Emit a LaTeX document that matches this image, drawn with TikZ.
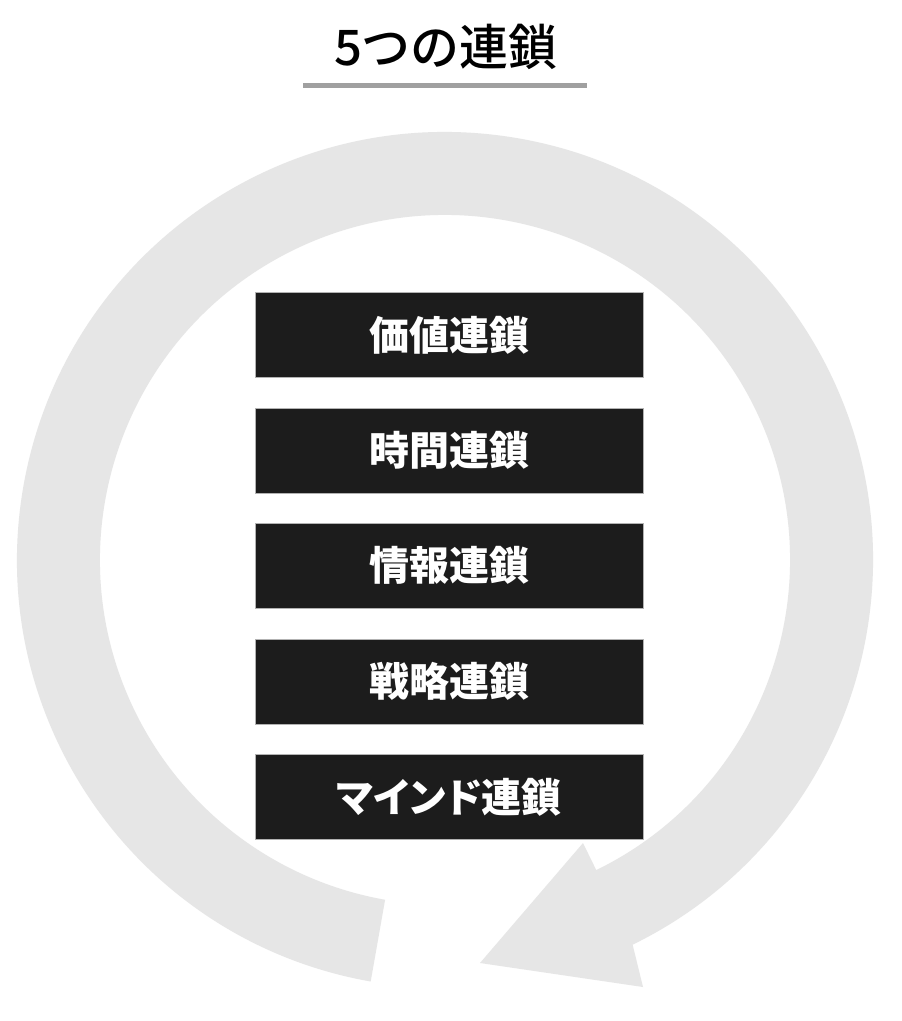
\documentclass[tikz,border=0pt]{standalone}
\usepackage{fontspec}
\usetikzlibrary{calc}
\newfontfamily\cjk{Noto Sans CJK JP}[RawFeature=+palt]
\newfontfamily\cjkmed{Noto Sans CJK JP Medium}
\begin{document}
\begin{tikzpicture}[x=1pt,y=-1pt,
  ringcol/.style={fill=ringgray},
  chainbox/.style={rectangle, fill=boxblack, draw=gray!60, line width=0.8pt,
    minimum width=388pt, minimum height=85pt, inner sep=0pt,
    text=white, font=\cjk\bfseries\fontsize{40}{46}\selectfont},
  titletext/.style={font=\cjkmed\fontsize{49}{56}\selectfont, text=black, inner sep=0pt}]
\definecolor{ringgray}{HTML}{E6E6E6}
\definecolor{boxblack}{HTML}{1C1C1C}
\definecolor{linegray}{HTML}{A0A0A0}
\useasboundingbox (0,0) rectangle (902,1021);
\fill[white] (0,0) rectangle (902,1021);
% ring arrow
\coordinate (c) at (445,560);
\coordinate (barbOut) at (643,987);
\coordinate (tip) at (480,963);
\coordinate (barbIn) at (583,843);
\fill[ringcol] ($(c)+(100:428)$) arc[start angle=100, end angle=424, radius=428]
  -- (barbOut) -- (tip) -- (barbIn)
  -- ($(c)+(424:345)$) arc[start angle=424, end angle=100, radius=345] -- cycle;
% title
\node[titletext] (title) at (446,47) {5つの連鎖};
\coordinate (ulL) at (303,85.5);
\coordinate (ulR) at (587,85.5);
\draw[linegray, line width=5pt] (ulL) -- (ulR);
% boxes
\node[chainbox] (b1) at (449,335) {価値連鎖};
\node[chainbox] (b2) at (449,450.5) {時間連鎖};
\node[chainbox] (b3) at (449,565.5) {情報連鎖};
\node[chainbox] (b4) at (449,681.5) {戦略連鎖};
\node[chainbox] (b5) at (449,797) {マインド連鎖};
\end{tikzpicture}
\end{document}
